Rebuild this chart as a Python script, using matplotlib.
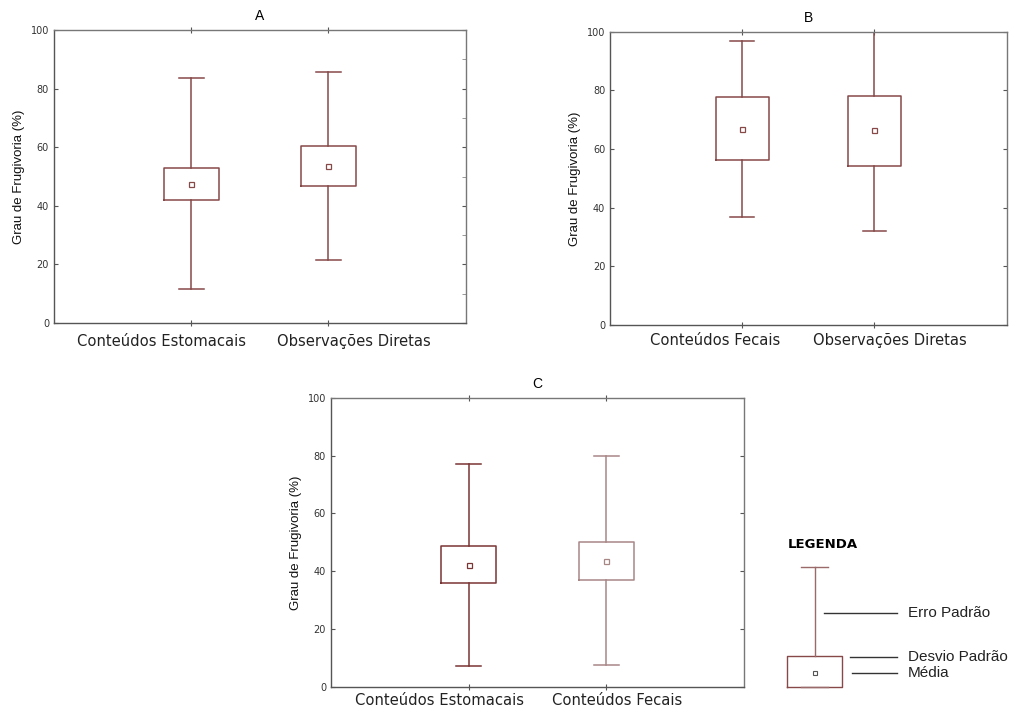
import matplotlib
matplotlib.use("Agg")
import matplotlib.pyplot as plt
from matplotlib.ticker import MultipleLocator

plt.rcParams['font.family'] = ['Liberation Sans', 'DejaVu Sans']

# values (box = desvio, whisker = erro, centre = media)
cats_a = ['Conteúdos Estomacais', 'Observações Diretas']
mean_a = [47.3, 53.7]
box_lo_a = [42.0, 46.7]
box_hi_a = [53.0, 60.4]
whis_lo_a = [11.5, 21.6]
whis_hi_a = [83.5, 85.8]

cats_b = ['Conteúdos Fecais', 'Observações Diretas']
mean_b = [66.9, 66.4]
box_lo_b = [56.1, 54.2]
box_hi_b = [77.6, 78.2]
whis_lo_b = [36.9, 32.2]
whis_hi_b = [96.7, 101.0]

cats_c = ['Conteúdos Estomacais', 'Conteúdos Fecais']
mean_c = [42.3, 43.6]
box_lo_c = [35.9, 36.9]
box_hi_c = [48.6, 50.2]
whis_lo_c = [7.4, 7.6]
whis_hi_c = [77.1, 79.7]

legend_stats = dict(mean=4.8, q1=0.0, q3=10.7, whislo=0.0, whishi=41.6)
legend_labels = ['Erro Padrão', 'Desvio Padrão', 'Média']
legend_label_y = [25.6, 10.5, 4.8]
legend_line_x0 = [0.47, 0.66, 0.67]

line_col = '#874848'
spine_col = '#555555'


def make_stats(means, lo, hi, wlo, whi):
    out = []
    for m, q1, q3, a, b in zip(means, lo, hi, wlo, whi):
        out.append(dict(med=m, mean=m, q1=q1, q3=q3, whislo=a, whishi=b, fliers=[]))
    return out


def draw_boxes(ax, stats, positions, colors):
    for st, pos, col in zip(stats, positions, colors):
        ax.bxp([st], positions=[pos], widths=0.4, capwidths=0.18,
               showmeans=True, showfliers=False, patch_artist=False,
               boxprops=dict(color=col, lw=1.1),
               whiskerprops=dict(color=col, lw=1.1),
               capprops=dict(color=col, lw=1.1),
               medianprops=dict(lw=0),
               meanprops=dict(marker='s', markersize=3.6, markerfacecolor='white',
                              markeredgecolor=col, markeredgewidth=0.9))


def style_panel(ax, cats, title, label_shift, label_y=-13.5, minor_right=False):
    ax.set_xlim(0, 3)
    ax.set_ylim(0, 100)
    ax.set_xticks([1, 2])
    ax.set_xticklabels([])
    # the category names sit spread apart from their ticks in the original
    for i, (cat, dx) in enumerate(zip(cats, label_shift)):
        ax.annotate(cat, xy=(i + 1, 0), xycoords=('data', 'axes fraction'),
                    xytext=(dx * 0.72, label_y), textcoords='offset points',
                    ha='center', va='center', fontsize=10.6, color='#222222',
                    family='DejaVu Sans')
    ax.set_yticks(range(0, 101, 20))
    for lab in ax.get_yticklabels():
        lab.set_family('DejaVu Sans')
    ax.tick_params(axis='y', labelsize=7, colors=spine_col, labelcolor='#333333',
                   direction='in', length=3, width=0.8, right=True)
    ax.tick_params(axis='x', direction='inout', length=4, width=0.8, top=True,
                   colors=spine_col)
    if minor_right:
        ax.yaxis.set_minor_locator(MultipleLocator(10))
        ax.tick_params(axis='y', which='minor', left=False, right=True,
                       direction='in', length=3, width=0.6, colors='#888888')
    ax.set_ylabel('Grau de Frugivoria (%)', fontsize=9.5, color='#111111', labelpad=4)
    ax.set_title(title, fontsize=10, pad=7)
    for s in ax.spines.values():
        s.set_color(spine_col)
        s.set_linewidth(1.0)
    ax.spines['top'].set_color('#777777')
    ax.spines['right'].set_color('#777777')


fig = plt.figure(figsize=(10.09, 7.11), dpi=100)

ax_a = fig.add_axes([0.0535, 0.5457, 0.408, 0.412])
draw_boxes(ax_a, make_stats(mean_a, box_lo_a, box_hi_a, whis_lo_a, whis_hi_a), [1, 2],
           [line_col, line_col])
style_panel(ax_a, cats_a, 'A', [-30, 25], minor_right=True)

ax_b = fig.add_axes([0.6046, 0.5429, 0.393, 0.4125])
draw_boxes(ax_b, make_stats(mean_b, box_lo_b, box_hi_b, whis_lo_b, whis_hi_b), [1, 2],
           [line_col, line_col])
style_panel(ax_b, cats_b, 'B', [-27, 15], label_y=-11.5)

ax_c = fig.add_axes([0.328, 0.0338, 0.4093, 0.4069])
draw_boxes(ax_c, make_stats(mean_c, box_lo_c, box_hi_c, whis_lo_c, whis_hi_c), [1, 2],
           ['#7a3434', '#a88686'])
style_panel(ax_c, cats_c, 'C', [-29, 11], label_y=-10.0)

# legend drawn as a small schematic box on the same vertical scale as panel C
ax_l = fig.add_axes([760 / 1009, 0.0338, 249 / 1009, 0.4069])
ax_l.axis('off')
ax_l.bxp([dict(med=legend_stats['mean'], fliers=[], **legend_stats)], positions=[0.4],
         widths=0.4, capwidths=0.2, showmeans=True, showfliers=False,
         boxprops=dict(color=line_col, lw=1.0),
         whiskerprops=dict(color='#9a6a6a', lw=1.0),
         capprops=dict(color='#9a6a6a', lw=1.0),
         medianprops=dict(lw=0),
         meanprops=dict(marker='s', markersize=3.4, markerfacecolor='white',
                        markeredgecolor='#555555', markeredgewidth=0.8))
ax_l.set_xlim(0, 1.82)
ax_l.set_ylim(0, 100)
ax_l.text(0.2, 49.1, 'LEGENDA', fontsize=9.5, fontweight='bold', va='center', ha='left',
          family='DejaVu Sans')
for lab, y, x0 in zip(legend_labels, legend_label_y, legend_line_x0):
    ax_l.plot([x0, 1.0], [y, y], color='#333333', lw=1.0)
    ax_l.text(1.08, y, lab, fontsize=11, va='center', ha='left', color='#222222')
for art in ax_l.get_children():
    art.set_clip_on(False)

fig.savefig('out.png', dpi=100)
